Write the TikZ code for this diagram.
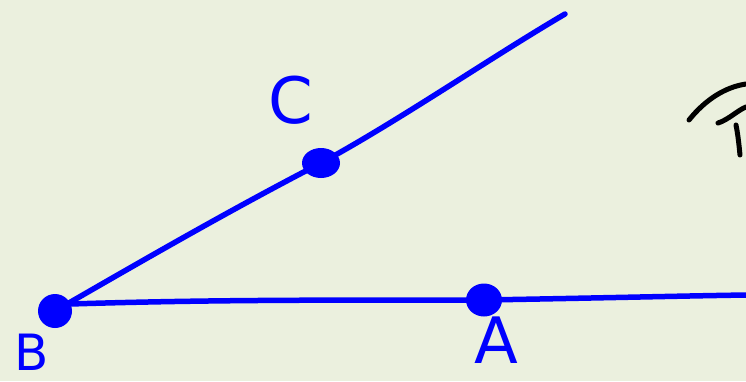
\documentclass[tikz,border=0pt]{standalone}
\usepackage{fontspec}
\setmainfont{DejaVu Sans}
\usetikzlibrary{shapes.geometric}
\definecolor{bgc}{RGB}{235,240,222}
\definecolor{pen}{RGB}{0,0,255}
\begin{document}
\begin{tikzpicture}[x=1pt,y=-1pt,
  stroke/.style={draw=pen,line width=5.5pt,line cap=round,line join=round},
  dotmark/.style={fill=pen,shape=ellipse,minimum width=34pt,minimum height=34pt,inner sep=0pt},
  lbl/.style={text=pen,font=\fontsize{64}{64}\selectfont,inner sep=0pt},
  inkstroke/.style={draw=black,line width=5pt,line cap=round,line join=round}]
\fill[bgc] (0,0) rectangle (746,381);
\useasboundingbox (0,0) rectangle (746,381);
\coordinate (Rend) at (565,14);
\coordinate (Lend) at (746,295);
\node[dotmark] (B) at (55,311) {};
\node[dotmark,minimum width=38pt,minimum height=30pt] (C) at (321,163) {};
\node[dotmark,minimum width=36pt,minimum height=33pt] (A) at (484,300) {};
\draw[stroke] (B.center) .. controls (140,262) and (230,210) .. (C.center)
  .. controls (400,120) and (490,58) .. (Rend);
\draw[stroke] (B.center) -- (70,304) .. controls (200,300) and (300,300) .. (A.center)
  .. controls (600,298) and (680,296) .. (Lend);
\node[lbl] (labC) at (291,100) {C};
\node[lbl] (labA) at (496,340) {A};
\node[lbl,font=\fontsize{50}{50}\selectfont] (labB) at (32,352) {B};
\draw[inkstroke] (689,120) .. controls (705,100) and (725,87) .. (746,84);
\draw[inkstroke] (718,123) .. controls (728,120) and (738,110) .. (746,107);
\draw[inkstroke] (736,125) .. controls (738,135) and (739,145) .. (740,155);
\end{tikzpicture}
\end{document}
